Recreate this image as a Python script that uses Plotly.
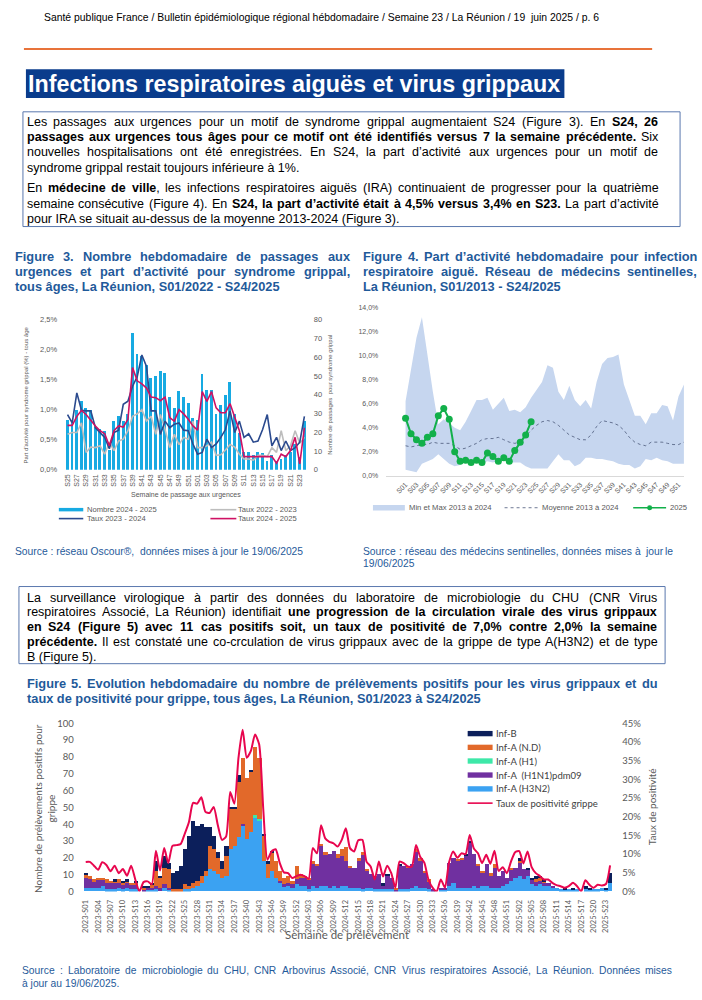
import plotly.graph_objects as go

# ---------------- DATA ----------------
# Figure 3
fig3_weeks = [f"S{w:02d}" for w in range(25, 53)] + [f"S{w:02d}" for w in range(1, 25)]
fig3_counts_2425 = [27, 25, 32, 37, 33, 32, 23, 22, 21, 11, 26, 29, 26, 30, 73, 62, 61, 56, 49, 50,
                    53, 52, 39, 33, 42, 39, 36, 28, 27, 51, 43, 43, 30, 35, 40, 47, 30, 20, 10, 10,
                    8, 10, 9, 5, 8, 5, 6, 8, 10, 14, 7, 26]
fig3_taux_2223 = [0.59, 0.62, 0.62, 0.78, 0.29, 0.38, 0.37, 0.40, 0.26, 0.46, 0.32, 0.48, 0.51, 0.65,
                  0.89, 0.93, 1.00, 0.81, 0.89, 0.59, 0.92, 0.67, 0.37, 0.59, 0.42, 0.54, 0.51, 0.81,
                  0.37, 0.37, 0.40, 0.46, 0.24, 0.25, 0.33, 0.42, 0.38, 0.26, 0.18, 0.18, 0.16, 0.24,
                  0.24, 0.22, 0.37, 0.29, 0.65, 0.32, 0.40, 0.65, 0.44, 0.54]
fig3_taux_2324 = [0.92, 0.78, 1.28, 0.99, 0.98, 0.98, 0.70, 0.62, 0.54, 0.35, 0.62, 0.66, 1.09, 1.14,
                  1.39, 1.55, 1.91, 1.72, 0.98, 0.98, 0.59, 0.81, 0.70, 0.76, 0.78, 0.66, 0.65, 0.43,
                  0.26, 0.29, 0.51, 0.37, 0.43, 0.54, 0.67, 0.98, 0.62, 0.81, 0.54, 0.60, 0.46, 0.48,
                  0.67, 0.92, 0.40, 0.54, 0.32, 0.48, 0.32, 0.37, 0.46, 0.89]
fig3_taux_2425 = [0.74, 0.74, 0.89, 0.99, 0.92, 0.82, 0.73, 0.65, 0.60, 0.40, 0.65, 0.73, 0.71, 0.84,
                  1.70, 1.48, 1.43, 1.36, 1.21, 1.20, 1.15, 1.21, 0.87, 0.81, 1.00, 0.93, 0.84, 0.73,
                  0.66, 1.30, 1.14, 1.30, 1.03, 0.95, 0.95, 1.10, 0.88, 0.65, 0.22, 0.22, 0.22, 0.22,
                  0.22, 0.22, 0.22, 0.11, 0.26, 0.22, 0.32, 0.54, 0.10, 0.70]

# Figure 4
fig4_weeks = [f"S{w:02d}" for w in range(1, 53)]
ira_max = [6.2, 9.0, 11.5, 13.2, 10.0, 7.0, 4.3, 4.7, 4.4, 4.0, 3.8, 4.5, 5.4, 6.3, 6.3, 6.5, 5.5,
           6.0, 6.5, 5.4, 5.5, 5.3, 5.7, 6.5, 7.2, 7.8, 9.2, 9.0, 7.0, 6.3, 7.5, 6.3, 5.8, 6.3,
           5.6, 7.8, 9.3, 9.8, 9.9, 10.1, 7.6, 6.3, 5.0, 5.0, 4.3, 5.2, 5.2, 5.9, 5.8, 4.6, 6.6, 7.6]
ira_min = [0.5, 0.4, 0.3, 1.0, 1.2, 1.4, 1.8, 1.4, 1.0, 0.8, 0.9, 1.2, 1.0, 1.1, 1.0, 1.2, 1.1,
           1.2, 1.3, 1.1, 1.1, 1.1, 0.8, 0.6, 0.6, 0.6, 0.6, 1.2, 1.8, 1.3, 1.3, 0.8, 1.0, 1.5,
           1.5, 1.4, 1.4, 1.3, 1.2, 1.0, 0.9, 0.9, 0.6, 0.8, 1.4, 1.3, 1.5, 1.3, 1.2, 1.0, 1.0, 1.0]
ira_mean = [2.5, 2.4, 2.5, 2.6, 2.6, 2.8, 2.7, 2.7, 2.7, 2.5, 2.2, 2.3, 2.5, 2.7, 3.0, 3.1, 3.1,
            3.2, 3.0, 2.8, 2.7, 2.8, 3.3, 3.8, 4.2, 4.5, 4.6, 4.5, 4.2, 3.8, 3.4, 3.2, 3.0, 3.0,
            3.4, 4.1, 4.6, 4.5, 4.4, 4.2, 3.8, 3.2, 2.8, 2.6, 2.5, 2.8, 2.8, 2.8, 2.7, 2.6, 2.6, 2.8]
ira_2025 = [4.8, 3.5, 3.0, 2.7, 3.2, 3.5, 5.0, 5.6, 4.7, 2.0, 1.2, 1.3, 1.1, 1.3, 1.1, 1.9, 1.6,
            1.2, 1.5, 1.2, 2.1, 2.8, 3.4, 4.5]

# Figure 5
fig5_weeks = ([f"2023-S{w:02d}" for w in range(1, 53)] + [f"2024-S{w:02d}" for w in range(1, 53)]
              + [f"2025-S{w:02d}" for w in range(1, 25)])
inf_h3n2 = [2, 2, 2, 2, 3, 1, 1, 1, 2, 1, 2, 1, 1,
            0, 0, 1, 1, 1, 0, 2, 1,
            0, 0, 0, 1, 1, 2, 3, 5, 9,
            13, 12, 10, 8, 9, 25, 27, 32, 39, 31, 35, 44, 42,
            18, 8, 12, 8, 5, 3, 3, 2, 4,
            3, 3, 1, 3, 2, 3, 3, 2, 3, 2, 3, 3,
            2, 2, 2, 1, 2, 2, 1, 1, 1, 1, 1, 0,
            1, 1, 1, 2, 3, 2, 2, 1, 0, 0, 1, 1,
            3, 5, 2, 2, 2, 2, 3, 2, 3, 3, 2, 2, 2, 3, 4, 6,
            8, 9, 7, 9, 4, 3, 4, 3, 3, 2, 2, 1,
            1, 1, 1, 1, 0, 1, 1, 1, 1, 2, 1, 5]
inf_h1n1 = [6, 5, 4, 5, 4, 4, 4, 4, 3, 3, 3, 3, 3,
            0, 1, 1, 1, 2, 2, 2, 1,
            0, 0, 0, 0, 0, 0, 0, 0, 0,
            0, 0, 0, 0, 0, 0, 0, 0, 1, 0, 0, 0, 0,
            0, 0, 0, 0, 1, 1, 2, 2, 3,
            5, 5, 6, 13, 13, 24, 19, 20, 21, 18, 18, 15,
            12, 12, 16, 21, 10, 8, 8, 9, 2, 8, 7, 1,
            14, 14, 13, 14, 20, 16, 9, 5, 1, 0, 1, 1,
            14, 15, 16, 17, 19, 27, 19, 13, 8, 13, 7, 12, 7, 9, 4, 7,
            6, 8, 6, 4, 3, 3, 2, 2, 2, 1, 0, 0,
            0, 0, 0, 0, 0, 0, 0, 0, 0, 0, 0, 0]
inf_h1 = [0] * 41 + [1, 1] + [0] * 85
inf_nd = [2, 2, 1, 1, 1, 2, 1, 1, 2, 1, 1, 1, 1,
          0, 1, 0, 2, 9, 6, 10, 11,
          1, 1, 1, 3, 2, 3, 3, 4, 3,
          14, 13, 10, 5, 12, 24, 22, 33, 39, 36, 36, 41, 36,
          15, 8, 11, 10, 6, 4, 4, 2, 8,
          2, 1, 1, 2, 1, 1, 1, 0, 0, 2, 4, 8,
          1, 0, 2, 1, 1, 0, 0, 0, 0, 0, 0, 1,
          0, 0, 1, 0, 2, 2, 1, 1, 0, 0, 0, 0,
          0, 0, 1, 1, 0, 0, 0, 1, 1, 0, 2, 2, 0, 0, 0, 1,
          0, 1, 0, 0, 0, 1, 2, 1, 0, 0, 0, 0,
          0, 0, 0, 0, 0, 0, 0, 0, 0, 0, 0, 0]
inf_b = [1, 0, 0, 0, 0, 0, 0, 1, 0, 1, 1, 0, 1,
         0, 1, 1, 1, 6, 1, 7, 4,
         10, 11, 14, 21, 30, 37, 33, 31, 26,
         11, 8, 3, 5, 6, 1, 1, 4, 0, 0, 1, 0, 0,
         1, 2, 1, 0, 0, 0, 0, 0, 0,
         0, 0, 0, 0, 0, 0, 0, 0, 0, 0, 0, 0,
         0, 0, 0, 0, 0, 0, 0, 0, 2, 1, 0, 0,
         1, 0, 0, 0, 0, 0, 0, 0, 0, 0, 0, 0,
         0, 0, 0, 0, 1, 1, 0, 0, 0, 0, 0, 0, 0, 0, 0, 0,
         0, 2, 0, 1, 1, 2, 1, 1, 0, 0, 0, 0,
         1, 0, 1, 0, 0, 2, 1, 0, 0, 0, 1, 6]
taux_grippe = [7.9, 7.9, 6.9, 5.8, 7.8, 7.1, 5.4, 6.9, 4.9, 6.0, 4.2, 6.9, 3.2,
               0.0, 2.5, 2.7, 1.9, 10.9, 5.6, 11.6, 7.6,
               12.2, 12.4, 12.7, 15.5, 18.6, 23.7, 23.5, 25.2, 21.3,
               21.0, 22.6, 17.7, 13.8, 14.7, 26.6, 23.5, 35.8, 43.3, 35.8, 37.6, 42.0, 39.4,
               22.0, 8.5, 10.7, 11.3, 7.6, 5.1, 4.9, 3.6, 4.1,
               4.5, 4.1, 3.4, 11.6, 10.2, 17.7, 14.2, 13.3, 12.9, 12.0, 13.8, 16.9,
               11.6, 10.7, 13.7, 13.8, 8.0, 6.7, 3.2, 8.0, 4.0, 6.9, 4.9, 1.0,
               8.0, 7.6, 6.7, 6.7, 12.4, 9.3, 7.7, 3.2, 1.0, 0.0, 3.2, 1.0,
               7.8, 10.7, 9.0, 10.2, 10.0, 15.1, 11.5, 10.2, 7.6, 9.8, 7.4, 10.9, 5.5, 6.5, 4.9, 8.0,
               10.5, 10.8, 7.5, 10.7, 6.5, 4.9, 4.1, 3.2, 3.2, 2.3, 1.7, 1.4,
               1.0, 1.4, 2.3, 1.4, 0.0, 3.0, 1.8, 1.0, 1.8, 1.6, 2.0, 7.0]

# ---------------- helpers ----------------
W, H = 702, 1000
def X(px):
    return px / W
def Y(py):
    return 1 - py / H

ARIAL = "Liberation Sans, Arial, sans-serif"
CAL = "Lato, Carlito, sans-serif"
GREY = "#595959"
BLUE_T = "#1F5A9A"

# Arial-compatible advance widths (1/1000 em), used only to justify paragraph lines
def _mk(groups):
    d = {}
    for chars, w in groups:
        for c in chars:
            d[c] = w
    return d
REG_W = _mk([("0123456789abdeghnopquéèêëàâäôöûüù", 556), ("cksvxyzç", 500), ("ft", 278), ("ijlîï", 222),
             ("m", 833), ("r", 333), ("w", 722), ("ABEKPSVXYÉ", 667), ("CDHNRU", 722), ("FTZ", 611),
             ("GOQ", 778), ("I", 278), ("J", 500), ("L", 556), ("M", 833), ("W", 944),
             (" ,.:;/!", 278), ("-()", 333), ("%", 889), ("'", 191), ("’", 222), ("®", 737)])
BOLD_W = _mk([("0123456789aceéèêëàâäsk", 556), ("bdghnopquôöûüù", 611), ("ft", 333), ("ijlîï", 278),
              ("m", 889), ("r", 389), ("vxy", 556), ("w", 778), ("z", 500), ("ABCDHKNRU", 722),
              ("E", 667), ("FTZL", 611), ("GOQ", 778), ("I", 278), ("J", 556), ("M", 833),
              ("PSVXY", 667), ("W", 944), (" ,./", 278), (":;-()", 333), ("%", 889), ("’", 278), ("'", 238)])

def cw(c, bold):
    return (BOLD_W if bold else REG_W).get(c, 556)

fig = go.Figure()

# ---------------- Figure 3 ----------------
fig.add_trace(go.Bar(x=fig3_weeks, y=fig3_counts_2425, marker_color="#17AAE2", marker_line_width=0,
                     width=0.62, xaxis="x", yaxis="y", name="Nombre 2024 - 2025"))
fig.add_trace(go.Scatter(x=fig3_weeks, y=fig3_taux_2223, mode="lines", line=dict(color="#BDBDBD", width=1.6),
                         xaxis="x", yaxis="y2", name="Taux 2022 - 2023"))
fig.add_trace(go.Scatter(x=fig3_weeks, y=fig3_taux_2324, mode="lines", line=dict(color="#2B4A8E", width=1.6),
                         xaxis="x", yaxis="y2", name="Taux 2023 - 2024"))
fig.add_trace(go.Scatter(x=fig3_weeks, y=fig3_taux_2425, mode="lines", line=dict(color="#CF1163", width=1.6),
                         xaxis="x", yaxis="y2", name="Taux 2024 - 2025"))

# ---------------- Figure 4 ----------------
fig.add_trace(go.Scatter(x=fig4_weeks, y=ira_min, mode="lines", line=dict(width=0, color="#C6D6EF"),
                         xaxis="x3", yaxis="y3", hoverinfo="skip"))
fig.add_trace(go.Scatter(x=fig4_weeks, y=ira_max, mode="lines", line=dict(width=0, color="#C6D6EF"),
                         fill="tonexty", fillcolor="#C6D6EF", xaxis="x3", yaxis="y3", name="Min et Max 2013 à 2024"))
fig.add_trace(go.Scatter(x=fig4_weeks, y=ira_mean, mode="lines", line=dict(color="#4A5878", width=0.8, dash="dot"),
                         xaxis="x3", yaxis="y3", name="Moyenne 2013 à 2024"))
fig.add_trace(go.Scatter(x=fig4_weeks[:len(ira_2025)], y=ira_2025, mode="lines+markers",
                         line=dict(color="#12B04A", width=2), marker=dict(size=7, color="#12B04A"),
                         xaxis="x3", yaxis="y3", name="2025"))

# ---------------- Figure 5 ----------------
fig5_series = [("Inf-A (H3N2)", inf_h3n2, "#3BA2F2"),
               ("Inf-A  (H1N1)pdm09", inf_h1n1, "#7030A0"),
               ("Inf-A (H1)", inf_h1, "#3DE8A8"),
               ("Inf-A (N.D)", inf_nd, "#E2692A"),
               ("Inf-B", inf_b, "#0C1F5B")]
for name, vals, col in fig5_series:
    fig.add_trace(go.Bar(x=fig5_weeks, y=vals, marker_color=col, marker_line_width=0, width=1.0,
                         xaxis="x4", yaxis="y4", name=name))
fig.add_trace(go.Scatter(x=fig5_weeks, y=taux_grippe, mode="lines",
                         line=dict(color="#E8064E", width=2, shape="spline", smoothing=0.6),
                         xaxis="x4", yaxis="y5", name="Taux de positivité grippe"))

tickf3 = dict(family=ARIAL, size=7.5, color=GREY)
fig.update_layout(
    width=W, height=H, margin=dict(l=0, r=0, t=0, b=0),
    paper_bgcolor="white", plot_bgcolor="rgba(0,0,0,0)",
    showlegend=False, barmode="stack", bargap=0, separators=", ",
    font=dict(family=ARIAL),
    # Fig 3
    xaxis=dict(domain=[X(63.4), X(305.6)], anchor="y", type="category", tickmode="array",
               tickvals=fig3_weeks[::2], tickangle=-90, tickfont=dict(family=ARIAL, size=7, color=GREY),
               showgrid=False, showline=False, zeroline=False, ticks="", ticklabelstandoff=2),
    yaxis=dict(domain=[Y(469), Y(317)], anchor="x", side="right", range=[0, 80], dtick=10,
               tickfont=tickf3, showgrid=False, zeroline=False, showline=False, ticklabelstandoff=6),
    yaxis2=dict(overlaying="y", anchor="x", side="left", range=[0, 2.5], dtick=0.5, tickformat=".1f",
                ticksuffix="%", tickfont=tickf3, showgrid=False, zeroline=False, showline=False,
                ticklabelstandoff=7),
    # Fig 4
    xaxis3=dict(domain=[X(385.4), X(683.9)], anchor="y3", type="category", tickmode="array",
                tickvals=fig4_weeks[::2], tickangle=-45, tickfont=dict(family=ARIAL, size=7, color=GREY),
                showgrid=False, showline=True, linecolor="#D9D9D9", linewidth=1, zeroline=False, ticks="",
                ticklabelstandoff=1),
    yaxis3=dict(domain=[Y(475), Y(305)], anchor="x3", range=[0, 14], dtick=2, tickformat=".1f", ticksuffix="%",
                tickfont=dict(family=ARIAL, size=7, color=GREY), showgrid=False, zeroline=False, showline=False,
                ticklabelstandoff=7),
    # Fig 5
    xaxis4=dict(domain=[X(81.9), X(611.9)], anchor="y4", type="category", tickmode="array",
                tickvals=fig5_weeks[::3], tickangle=-90, tickfont=dict(family=CAL, size=7.5, color=GREY),
                showgrid=False, showline=False, zeroline=False, ticks="", ticklabelstandoff=6),
    yaxis4=dict(domain=[Y(895.3), Y(725.3)], anchor="x4", range=[0, 100], dtick=10,
                tickfont=dict(family=CAL, size=9.5, color=GREY), showgrid=False, zeroline=False,
                showline=False, ticklabelstandoff=9),
    yaxis5=dict(overlaying="y4", anchor="x4", side="right", range=[0, 45], dtick=5, ticksuffix="%",
                tickfont=dict(family=CAL, size=9.5, color=GREY), showgrid=False, zeroline=False,
                showline=False, ticklabelstandoff=9),
)

shapes = []
ann = []

def text(px, py, s, size, color="black", family=ARIAL, xanchor="left", yanchor="middle", angle=0):
    ann.append(dict(x=X(px), y=Y(py), xref="paper", yref="paper", text=s, showarrow=False,
                    xanchor=xanchor, yanchor=yanchor, textangle=angle, borderpad=0, borderwidth=0,
                    font=dict(family=family, size=size, color=color)))

def _html(chars):
    out, cur, curb = [], "", None
    for c, b in chars:
        if b != curb and cur:
            out.append(f"<b>{cur}</b>" if curb else cur)
            cur = ""
        curb = b
        cur += c
    if cur:
        out.append(f"<b>{cur}</b>" if curb else cur)
    return "".join(out)

def line_text(x0, py, segs, size, color="black", x1=None):
    """segs: list of (text, bold). If x1 given the line is justified between x0 and x1."""
    chars = [(c, b) for t, b in segs for c in t]
    if x1 is None:
        text(x0, py, _html(chars), size, color)
        return
    words, cur = [], []
    for c, b in chars:
        if c == " ":
            if cur:
                words.append(cur)
                cur = []
        else:
            cur.append((c, b))
    if cur:
        words.append(cur)
    widths = [sum(cw(c, b) for c, b in wd) * size / 1000.0 for wd in words]
    gap = (x1 - x0 - sum(widths)) / max(len(words) - 1, 1)
    gap = max(gap, 0.55 * 0.278 * size)
    x = x0
    for wd, w in zip(words, widths):
        text(x, py, _html(wd), size, color)
        x += w + gap

def rect(x0, y0, x1, y1, fill=None, line=None, lw=1):
    shapes.append(dict(type="rect", xref="paper", yref="paper", x0=X(x0), x1=X(x1), y0=Y(y1), y1=Y(y0),
                       fillcolor=fill if fill else "rgba(0,0,0,0)",
                       line=dict(color=line if line else "rgba(0,0,0,0)", width=lw if line else 0)))

def hline(x0, x1, y, color, width=1, dash="solid"):
    shapes.append(dict(type="line", xref="paper", yref="paper", x0=X(x0), x1=X(x1), y0=Y(y), y1=Y(y),
                       line=dict(color=color, width=width, dash=dash)))

# Header
text(42, 12, "Santé publique France / Bulletin épidémiologique régional hébdomadaire / Semaine 23 / La Réunion / 19&nbsp; juin 2025 / p. 6", 10.4)
hline(22, 652, 43.5, "#E8733A", 2)
# Title bar
rect(24, 64, 564, 93, fill="#0A3C8C")
text(26, 79, "<b>Infections respiratoires aiguës et virus grippaux</b>", 23.3, "white")

# Text box 1
rect(21, 107, 680, 223, line="#5A78AE", lw=1)
tb = 12.5
R = 658
lines1 = [
    (117, [("Les passages aux urgences pour un motif de syndrome grippal augmentaient S24 (Figure 3). En ", False), ("S24, 26", True)], R),
    (132.5, [("passages aux urgences tous âges pour ce motif ont été identifiés versus 7 la semaine précédente.", True), (" Six", False)], R),
    (148, [("nouvelles hospitalisations ont été enregistrées. En S24, la part d’activité aux urgences pour un motif de", False)], R),
    (163.5, [("syndrome grippal restait toujours inférieure à 1%.", False)], None),
    (184.5, [("En ", False), ("médecine de ville", True), (", les infections respiratoires aiguës (IRA) continuaient de progresser pour la quatrième", False)], R),
    (200, [("semaine consécutive (Figure 4). En ", False), ("S24, la part d’activité était à 4,5% versus 3,4% en S23.", True), (" La part d’activité", False)], R),
    (215.5, [("pour IRA se situait au-dessus de la moyenne 2013-2024 (Figure 3).", False)], None),
]
for py, segs, x1 in lines1:
    line_text(24.7, py, segs, tb, "black", x1)

# Figure titles
ft = 12.8
f3 = ["Figure 3. Nombre hebdomadaire de passages aux",
      "urgences et part d’activité pour syndrome grippal,",
      "tous âges, La Réunion, S01/2022 - S24/2025"]
f4 = ["Figure 4.  Part d’activité hebdomadaire pour infection",
      "respiratoire aiguë. Réseau de médecins sentinelles,",
      "La Réunion, S01/2013 - S24/2025"]
for i, s in enumerate(f3):
    line_text(12.6, 253.3 + 15 * i, [(s, True)], ft, BLUE_T, 348.8 if i < 2 else None)
for i, s in enumerate(f4):
    line_text(362, 253.3 + 15 * i, [(s, True)], ft, BLUE_T, 697 if i < 2 else None)

# Fig 3 axis titles
text(24, 393, "Part d'activité pour syndrome grippal (%) - tous âge", 6, GREY, xanchor="center", angle=-90)
text(329, 393, "Nombre de passages&nbsp; pour syndrome grippal", 6, GREY, xanchor="center", angle=-90)
text(185, 494, "Semaine de passage aux urgences", 7, GREY, xanchor="center")
# Fig 3 legend
rect(57, 507.5, 81.5, 511, fill="#17AAE2")
text(85, 509.3, "Nombre 2024 - 2025", 7.6, GREY)
hline(209, 235, 509.3, "#BDBDBD", 1.6)
text(237, 509.3, "Taux 2022 - 2023", 7.6, GREY)
hline(57, 81.5, 518.3, "#2B4A8E", 1.6)
text(85, 518.3, "Taux 2023 - 2024", 7.6, GREY)
hline(209, 235, 518.3, "#CF1163", 1.6)
text(237, 518.3, "Taux 2024 - 2025", 7.6, GREY)

# Fig 4 legend
rect(372, 504.5, 404, 510, fill="#C6D6EF")
text(408, 507.3, "Min et Max 2013 à 2024", 7.7, GREY)
hline(504, 538, 507.3, "#4A5878", 0.8, "dot")
text(541.5, 507.3, "Moyenne 2013 à 2024", 7.7, GREY)
hline(633, 666, 507.3, "#12B04A", 1.6)
shapes.append(dict(type="circle", xref="paper", yref="paper", x0=X(647), x1=X(652), y0=Y(509.8), y1=Y(504.8),
                   fillcolor="#12B04A", line=dict(width=0)))
text(670, 507.3, "2025", 7.7, GREY)

# Sources
src = 10.3
text(12.6, 551.7, "Source : réseau Oscour®,&nbsp; données mises à jour le 19/06/2025", src, BLUE_T)
line_text(362, 551.7, [("Source : réseau des médecins sentinelles, données mises à jour le", False)], src, BLUE_T, 673)
text(362, 563.3, "19/06/2025", src, BLUE_T)

# Text box 2
rect(17, 587, 665, 665, line="#5A78AE", lw=1)
R2 = 657
lines2 = [
    (598.3, [("La surveillance virologique à partir des données du laboratoire de microbiologie du CHU (CNR Virus", False)], R2),
    (613, [("respiratoires Associé, La Réunion) identifiait ", False), ("une progression de la circulation virale des virus grippaux", True)], R2),
    (628, [("en S24 (Figure 5) avec 11 cas positifs soit, un taux de positivité de 7,0% contre 2,0% la semaine", True)], R2),
    (643, [("précédente.", True), (" Il est constaté une co-crculation de virus grippaux avec de la grippe de type A(H3N2) et de type", False)], R2),
    (658, [("B (Figure 5).", False)], None),
]
for py, segs, x1 in lines2:
    line_text(24.7, py, segs, tb, "black", x1)

# Fig 5 title
line_text(24.7, 685, [("Figure 5. Evolution hebdomadaire du nombre de prélèvements positifs pour les virus grippaux et du", True)], ft, BLUE_T, 657)
line_text(24.7, 700, [("taux de positivité pour grippe, tous âges, La Réunion, S01/2023 à S24/2025", True)], ft, BLUE_T)

# Fig 5 axis titles
text(36, 811, "Nombre de prélèvements positifs pour", 10, GREY, family=CAL, xanchor="center", angle=-90)
text(49.5, 811, "grippe", 10, GREY, family=CAL, xanchor="center", angle=-90)
text(652, 810, "Taux de positivité", 10, GREY, family=CAL, xanchor="center", angle=-90)
text(346, 939, "Semaine de prélèvement", 11.5, GREY, family=CAL, xanchor="center")

# Fig 5 legend
leg5 = [("Inf-B", "#0C1F5B"), ("Inf-A (N.D)", "#E2692A"), ("Inf-A (H1)", "#3DE8A8"),
        ("Inf-A&nbsp; (H1N1)pdm09", "#7030A0"), ("Inf-A (H3N2)", "#3BA2F2")]
ys = [735.7, 749.6, 763.4, 777.6, 791.6]
for (nm, col), yy in zip(leg5, ys):
    rect(467, yy - 2.7, 492, yy + 2.7, fill=col)
    text(495, yy, nm, 9.5, "#404040", family=CAL)
hline(467, 492, 806, "#E8064E", 1.6)
text(495, 806, "Taux de positivité grippe", 9.5, "#404040", family=CAL)

# Source 5
line_text(20, 975, [("Source : Laboratoire de microbiologie du CHU, CNR Arbovirus Associé, CNR Virus respiratoires Associé, La Réunion. Données mises", False)], src, BLUE_T, 672)
text(20, 988, "à jour au 19/06/2025.", src, BLUE_T)

fig.update_layout(shapes=shapes, annotations=ann)
fig.write_html("out.html", config={"displayModeBar": False},
               post_script="document.body.style.margin='0';document.body.style.padding='0';")
